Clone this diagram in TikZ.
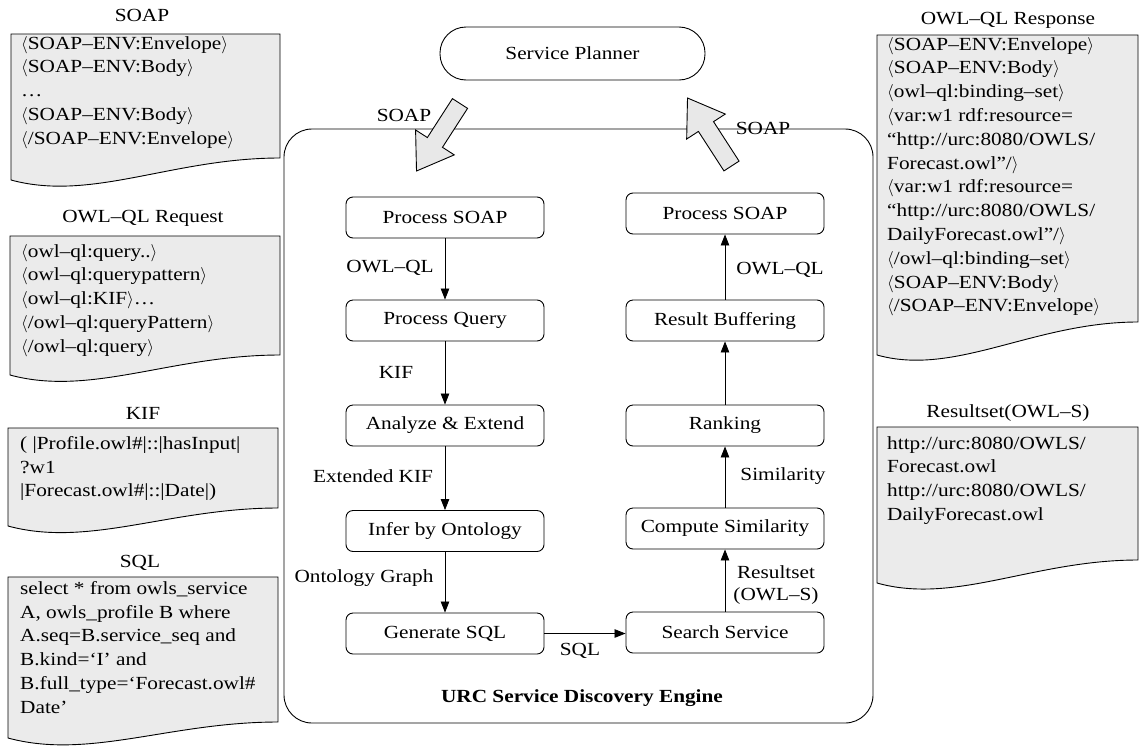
\documentclass[tikz,border=0pt]{standalone}
\usepackage{fontspec}
\setmainfont[FakeStretch=1.15]{Liberation Serif}
\usetikzlibrary{calc,arrows.meta}
\definecolor{docgray}{gray}{0.92}
\definecolor{arrgray}{gray}{0.91}
\newcommand\Ltag{\ensuremath{\langle}}
\newcommand\Rtag{\ensuremath{\rangle}}
% document shape: L, R, T, y-left-bottom, y-right-bottom
\newcommand\docshape[5]{%
  \filldraw[docline] (#2,#5) -- (#2,#3) -- (#1,#3) -- (#1,#4)
    .. controls ({#1+0.3*(#2-#1)},{#4+22}) and ({#1+0.6*(#2-#1)},#5) .. (#2,#5) -- cycle;}
% block arrow from tail coordinate to tip coordinate
\newcommand\blockarrow[2]{%
  \coordinate (hb) at ($(#2)!34pt!(#1)$);
  \filldraw[arrline] ($(#1)!9pt!90:(#2)$) -- ($(hb)!9pt!-90:(#1)$) -- ($(hb)!23pt!-90:(#1)$) -- (#2)
    -- ($(hb)!23pt!90:(#1)$) -- ($(hb)!9pt!90:(#1)$) -- ($(#1)!9pt!-90:(#2)$) -- cycle;}
\begin{document}
\begin{tikzpicture}[x=1pt,y=-1pt,
  font=\fontsize{18.5}{23.8}\selectfont,
  docline/.style={draw, fill=docgray, line width=0.9pt},
  arrline/.style={draw, fill=arrgray, line width=0.9pt},
  proc/.style={draw, rounded corners=7pt, minimum width=198pt, minimum height=41pt, line width=0.9pt, inner sep=0pt},
  flow/.style={-{Triangle[length=11pt,width=8.5pt]}, line width=0.8pt},
  doctext/.style={anchor=north west, align=left, inner sep=0pt},
  plain/.style={inner sep=0pt}]
\useasboundingbox (0,0) rectangle (1139,747);

% ---- engine frame
\node[draw, rounded corners=28pt, minimum width=589pt, minimum height=594pt, line width=0.9pt] (engine) at (578.5,426) {};
\node[plain, font=\fontsize{18.5}{20}\selectfont\bfseries] (englabel) at (582,698) {URC Service Discovery Engine};

% ---- service planner
\node[draw, rounded corners=26pt, minimum width=265pt, minimum height=53pt, line width=0.9pt] (planner) at (572.5,53.5) {Service Planner};

% ---- block arrows
\coordinate (la-tail) at (460,103.5);
\coordinate (la-tip) at (416.5,171);
\blockarrow{la-tail}{la-tip}
\coordinate (ra-tail) at (731.5,166);
\coordinate (ra-tip) at (687.5,98);
\blockarrow{ra-tail}{ra-tip}
\node[plain] (soapL) at (404,115) {SOAP};
\node[plain] (soapR) at (763,128) {SOAP};

% ---- left column
\node[proc] (ps1) at (445,217.5) {Process SOAP};
\node[proc] (pq) at (445,320.5) {Process Query};
\node[proc] (ae) at (445,425.5) {Analyze \& Extend};
\node[proc] (io) at (445,531) {Infer by Ontology};
\node[proc] (gs) at (445,633.5) {Generate SQL};
% ---- right column
\node[proc] (ps2) at (725,213.5) {Process SOAP};
\node[proc] (rb) at (725,320.5) {Result Buffering};
\node[proc] (rk) at (725,425.5) {Ranking};
\node[proc] (cs) at (725,528.5) {Compute Similarity};
\node[proc] (ss) at (725,632.5) {Search Service};

\draw[flow] (ps1) -- (pq);
\draw[flow] (pq) -- (ae);
\draw[flow] (ae) -- (io);
\draw[flow] (io) -- (gs);
\draw[flow] (gs.east) -- (gs.east -| ss.west);
\draw[flow] (ss) -- (cs);
\draw[flow] (cs) -- (rk);
\draw[flow] (rk) -- (rb);
\draw[flow] (rb) -- (ps2);

\node[plain] (l1) at (390,268) {OWL–QL};
\node[plain] (l2) at (396,372) {KIF};
\node[plain] (l3) at (373,476) {Extended KIF};
\node[plain] (l4) at (364,578) {Ontology Graph};
\node[plain] (r1) at (780,270) {OWL–QL};
\node[plain] (r2) at (783,476) {Similarity};
\node[plain, align=center, font=\fontsize{18.5}{21.5}\selectfont] (r3) at (776,585) {Resultset\\(OWL–S)};
\node[plain] (sql) at (580,651) {SQL};

% ---- left documents
\node[plain] (t1) at (142,15) {SOAP};
\docshape{11}{280}{34}{180}{158}
\node[doctext] (d1) at (21,36) {\Ltag SOAP–ENV:Envelope\Rtag\\\Ltag SOAP–ENV:Body\Rtag\\…\\\Ltag SOAP–ENV:Body\Rtag\\\Ltag/SOAP–ENV:Envelope\Rtag};

\node[plain] (t2) at (143,218) {OWL–QL Request};
\docshape{10}{280}{236}{375}{355}
\node[doctext] (d2) at (21,244) {\Ltag owl–ql:query..\Rtag\\\Ltag owl–ql:querypattern\Rtag\\\Ltag owl–ql:KIF\Rtag…\\\Ltag/owl–ql:queryPattern\Rtag\\\Ltag/owl–ql:query\Rtag};

\node[plain] (t3) at (143,413) {KIF};
\docshape{8}{278}{428}{526}{508}
\node[doctext] (d3) at (20,436) {( |Profile.owl\#|::|hasInput|\\?w1\\|Forecast.owl\#|::|Date|)};

\node[plain] (t4) at (140,563) {SQL};
\docshape{8}{278}{577}{738}{722}
\node[doctext] (d4) at (20,581) {select * from owls\_service\\A, owls\_profile B where\\A.seq=B.service\_seq and\\B.kind=‘I’ and\\B.full\_type=‘Forecast.owl\#\\Date’};

% ---- right documents
\node[plain] (t5) at (1008,20) {OWL–QL Response};
\docshape{877}{1138}{35}{355}{322}
\node[doctext] (d5) at (887,37) {\Ltag SOAP–ENV:Envelope\Rtag\\\Ltag SOAP–ENV:Body\Rtag\\\Ltag owl–ql:binding–set\Rtag\\\Ltag var:w1 rdf:resource=\\ “http://urc:8080/OWLS/\\Forecast.owl”/\Rtag\\\Ltag var:w1 rdf:resource=\\“http://urc:8080/OWLS/\\DailyForecast.owl”/\Rtag\\\Ltag/owl–ql:binding–set\Rtag\\\Ltag SOAP–ENV:Body\Rtag\\\Ltag/SOAP–ENV:Envelope\Rtag};

\node[plain] (t6) at (1008,413) {Resultset(OWL–S)};
\docshape{877}{1138}{427}{583}{560}
\node[doctext] (d6) at (887,436) {http://urc:8080/OWLS/\\Forecast.owl\\http://urc:8080/OWLS/\\DailyForecast.owl};
\end{tikzpicture}
\end{document}
